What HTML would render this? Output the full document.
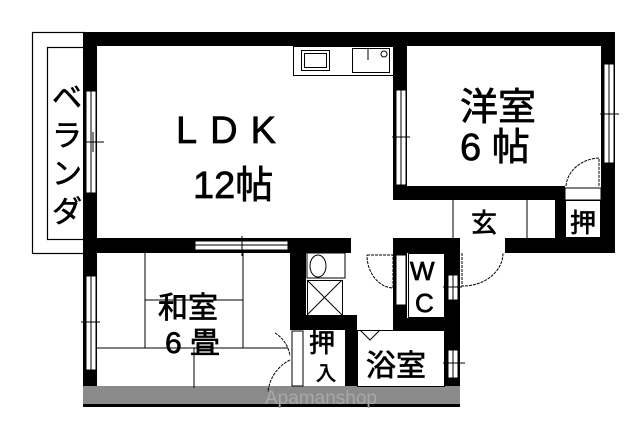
<!DOCTYPE html>
<html><head><meta charset="utf-8"><style>
html,body{margin:0;padding:0;background:#fff;}
svg{display:block}
text{font-family:"Liberation Sans","Noto Sans CJK JP",sans-serif;fill:#000}
</style></head><body>
<svg width="640" height="446" viewBox="0 0 640 446" xmlns="http://www.w3.org/2000/svg">
<rect width="640" height="446" fill="#fff"/>
<rect x="32.5" y="32.5" width="52" height="221" fill="none" stroke="#000" stroke-width="1.2"/>
<rect x="47.5" y="47.5" width="37" height="192" fill="none" stroke="#000" stroke-width="1.2"/>
<rect x="83" y="386" width="377" height="19" fill="#8a8a8a"/>
<rect x="83" y="404" width="377" height="3" fill="#000"/>
<g fill="#000">
<rect x="83" y="32" width="532" height="14"/>
<rect x="83" y="32" width="14" height="354"/>
<rect x="601" y="32" width="14" height="221"/>
<rect x="393" y="32" width="14" height="168"/>
<rect x="393" y="186" width="172" height="14"/>
<rect x="555" y="186" width="10" height="67"/>
<rect x="505" y="238" width="110" height="15"/>
<rect x="97" y="238" width="254" height="15"/>
<rect x="290" y="238" width="16" height="92"/>
<rect x="290" y="315" width="67" height="15"/>
<rect x="345" y="315" width="12" height="71"/>
<rect x="393" y="238" width="67" height="15"/>
<rect x="445" y="238" width="15" height="148"/>
<rect x="393" y="238" width="14" height="92"/>
<rect x="393" y="318" width="67" height="12"/>
</g>
<g fill="#fff" stroke="#000" stroke-width="1">
<rect x="86" y="91" width="10" height="102"/>
<rect x="396" y="90" width="10" height="95"/>
<rect x="604" y="64" width="10" height="99"/>
<rect x="86" y="276" width="10" height="94"/>
<rect x="195" y="241" width="93" height="9"/>
<rect x="448" y="275" width="10" height="25"/>
<rect x="448" y="350" width="10" height="28"/>
<rect x="396" y="255" width="10" height="50"/>
<rect x="565" y="188" width="36" height="12"/>
<rect x="292" y="331" width="11" height="55"/>
<rect x="358" y="318" width="35" height="12" stroke="none"/>
<rect x="307" y="253" width="38" height="25" />
</g>
<g stroke="#000" stroke-width="1" fill="none">
<line x1="91" y1="91" x2="91" y2="193"/><line x1="84" y1="142" x2="104" y2="142"/><line x1="93" y1="132" x2="93" y2="152"/>
<line x1="401" y1="90" x2="401" y2="185"/><line x1="392" y1="137" x2="410" y2="137"/>
<line x1="609" y1="64" x2="609" y2="163"/><line x1="600" y1="114" x2="619" y2="114"/>
<line x1="91" y1="276" x2="91" y2="370"/><line x1="81" y1="322" x2="100" y2="322"/>
<line x1="195" y1="245" x2="288" y2="245"/><line x1="242" y1="236" x2="242" y2="256"/>
<line x1="453" y1="275" x2="453" y2="300"/><line x1="443" y1="287" x2="462" y2="287"/>
<line x1="453" y1="350" x2="453" y2="378"/><line x1="443" y1="363" x2="465" y2="363"/>
<line x1="145" y1="253" x2="145" y2="348"/><line x1="243" y1="253" x2="243" y2="348"/>
<line x1="145" y1="300" x2="243" y2="300"/><line x1="97" y1="348" x2="288" y2="348"/>
<line x1="194" y1="348" x2="194" y2="388"/>
<rect x="293.5" y="46.5" width="100" height="29"/>
<rect x="301.5" y="50.5" width="28" height="20"/>
<rect x="304.5" y="53.5" width="22" height="14"/>
<rect x="352.5" y="48.5" width="37" height="24"/>
<line x1="368" y1="48" x2="368" y2="60"/><circle cx="384" cy="54" r="3"/>
<line x1="453" y1="200" x2="453" y2="238"/><line x1="527" y1="200" x2="527" y2="238"/>
<rect x="565.5" y="200.5" width="35" height="37"/>
<path d="M566 186 A35 30 0 0 1 599 158 L599 186" stroke-dasharray="3,1"/>
<path d="M367 255 L393 255 L393 288 A27 33 0 0 1 367 255" stroke-dasharray="3,1"/>
<path d="M462 253 L462 286 A40 33 0 0 0 503 253" stroke-dasharray="3,1"/>
<path d="M275 333 A30 32 0 0 1 290 356 M290 360 A40 40 0 0 0 268 392" stroke-dasharray="3,1"/>
<path d="M360 330 L370 340 L380 330"/>
<ellipse cx="318" cy="266" rx="8" ry="11"/>
<rect x="307.5" y="280.5" width="35" height="35"/>
<line x1="307" y1="280" x2="342" y2="315"/><line x1="342" y1="280" x2="307" y2="315"/>
<rect x="408.5" y="253.5" width="36" height="64"/>
<rect x="357.5" y="330.5" width="87" height="56"/>
</g>
<g font-size="30" stroke="#000" stroke-width="0.6">
<text x="52" y="108">ベ</text><text x="52" y="146">ラ</text><text x="52" y="184">ン</text><text x="52" y="222">ダ</text>
</g>
<g stroke="#000" stroke-width="0.7">
<text x="176" y="143" font-size="38" letter-spacing="13">LDK</text>
<text x="193" y="198" font-size="38">12帖</text>
<text x="460" y="120" font-size="38">洋室</text>
<text x="460" y="160" font-size="38" xml:space="preserve">6 帖</text>
<text x="158" y="318" font-size="30">和室</text>
<text x="165" y="353" font-size="30" xml:space="preserve">6 畳</text>
<text x="309" y="352" font-size="26">押</text>
<text x="316" y="380" font-size="20">入</text>
<text x="366" y="376" font-size="30">浴室</text>
<text x="410" y="280" font-size="26">W</text>
<text x="415" y="312" font-size="26">C</text>
<text x="471" y="232" font-size="26">玄</text>
<text x="570" y="232" font-size="26">押</text>
</g>
<text x="265" y="404" font-size="19" style="fill:#a8a8a8">Apamanshop</text>
</svg>
</body></html>
